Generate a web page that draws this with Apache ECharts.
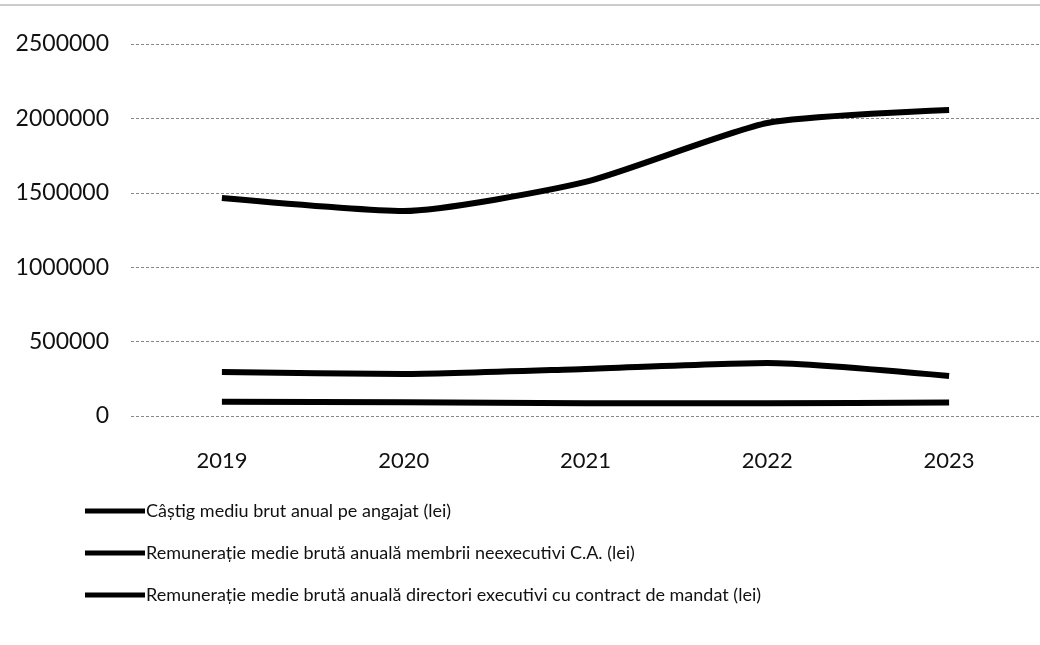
<!DOCTYPE html>
<html><head><meta charset="utf-8">
<script src="https://cdn.jsdelivr.net/npm/echarts@6/dist/echarts.min.js"></script>
<style>html,body{margin:0;padding:0;background:#fff}#c{width:1040px;height:645px}</style>
</head><body><div id="c"></div>
<script>
const categories = ['2019','2020','2021','2022','2023'];
const seriesNames = [
  'Câștig mediu brut anual pe angajat (lei)',
  'Remunerație medie brută anuală membrii neexecutivi C.A. (lei)',
  'Remunerație medie brută anuală directori executivi cu contract de mandat (lei)'
];
const castigMediu = [95000, 92000, 86000, 86000, 90000];
const membriiNeexecutivi = [296000, 282000, 316000, 356000, 269000];
const directoriExecutivi = [1465000, 1378000, 1573000, 1969000, 2057000];
const yTicks = {min: 0, max: 2500000, interval: 500000};

const font = 'Lato, "Open Sans", sans-serif';
const chart = echarts.init(document.getElementById('c'));
const dataSets = [castigMediu, membriiNeexecutivi, directoriExecutivi];
chart.setOption({
  animation: false,
  backgroundColor: '#fff',
  grid: {left: 131, top: 44, width: 920, bottom: 229},
  xAxis: {
    type: 'category', data: categories, boundaryGap: true,
    axisLine: {show: false}, axisTick: {show: false},
    axisLabel: {color: '#111', fontSize: 22, fontFamily: font, margin: 34}
  },
  yAxis: {
    type: 'value', min: yTicks.min, max: yTicks.max, interval: yTicks.interval,
    axisLine: {show: false}, axisTick: {show: false},
    axisLabel: {color: '#111', fontSize: 23, fontFamily: font, margin: 22, formatter: v => String(v)},
    splitLine: {lineStyle: {color: '#888', width: 1, type: [3, 2]}}
  },
  legend: {
    orient: 'vertical', left: 80, top: 493, itemGap: 16,
    itemWidth: 60, itemHeight: 22, icon: 'path://M0,8 L60,8 L60,13 L0,13 Z',
    textStyle: {color: '#111', fontSize: 18, fontFamily: font, padding: [0,0,0,-4], lineHeight: 26},
    data: seriesNames
  },
  series: dataSets.map((d, i) => ({
    name: seriesNames[i], type: 'line', data: d, symbol: 'none', smooth: 0.2,
    lineStyle: {color: '#000', width: 6}, itemStyle: {color: '#000'}
  })),
  graphic: [
    {type: 'line', shape: {x1: 0, y1: 5, x2: 1040, y2: 5}, style: {stroke: '#999', lineWidth: 1}, silent: true}
  ]
});
</script></body></html>
